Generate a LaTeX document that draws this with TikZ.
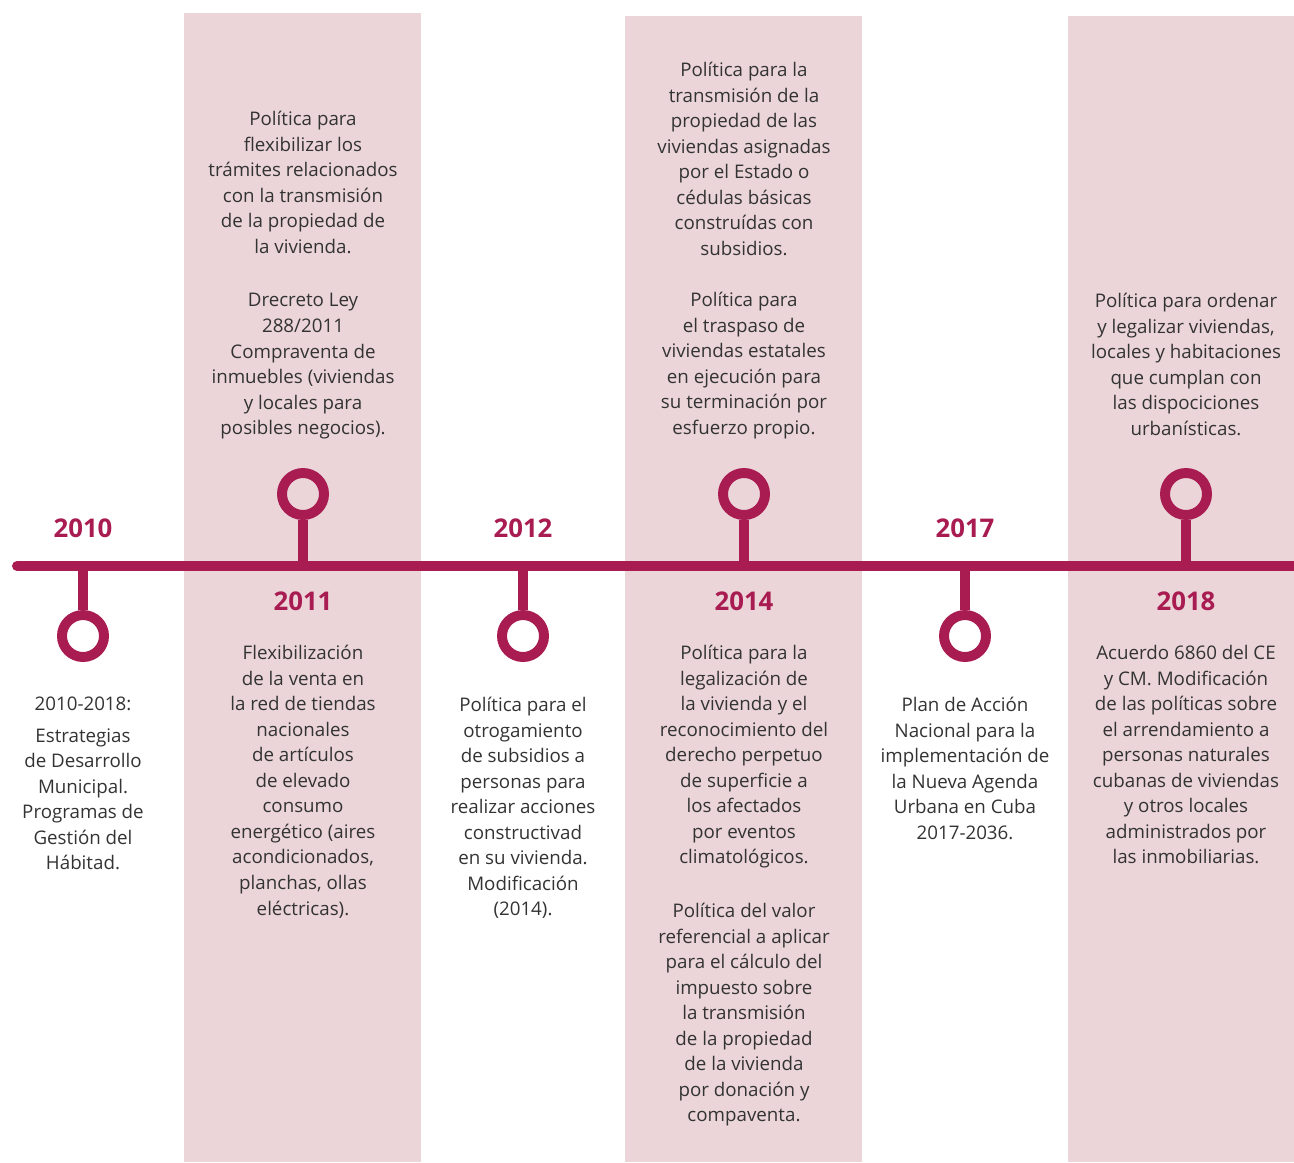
\documentclass[tikz,border=0pt]{standalone}
\usepackage{fontspec}
\setmainfont{Open Sans}
\usetikzlibrary{positioning}
\definecolor{tlred}{HTML}{A81C52}
\definecolor{tlband}{HTML}{EBD5D8}
\definecolor{tltext}{HTML}{333333}
\tikzset{
  band/.style = {fill=tlband, draw=none},
  axis/.style = {draw=tlred, line width=8.5pt},
  pin/.style = {circle, draw=tlred, line width=8.5pt, minimum size=1.26cm, inner sep=0pt},
  stem/.style = {draw=tlred, line width=8.5pt},
  year/.style = {text=tlred, font=\fontsize{22}{26}\selectfont\bfseries, inner sep=0pt},
  txt/.style = {align=center, text=tltext, anchor=north, inner sep=0pt,
    font=\fontsize{16}{21.8}\selectfont},
}

\begin{document}
\begin{tikzpicture}[x=0.03cm, y=-0.03cm]
\useasboundingbox (0,0) rectangle (1294,1162);

% background bands
\fill [band] (184,13) rectangle (421,1162);
\fill [band] (625,16) rectangle (862,1162);
\fill [band] (1068,16) rectangle (1294,1162);

% timeline
\coordinate (start) at (17,566);
\coordinate (end) at (1294,566);
\draw [axis, line cap=round] (start) -- (end);

% pins above the line
\node [pin] (p2011) at (303,494) {};
\node [pin] (p2014) at (744,494) {};
\node [pin] (p2018) at (1186,494) {};
\draw [stem] (p2011.south) -- (p2011.south |- start);
\draw [stem] (p2014.south) -- (p2014.south |- start);
\draw [stem] (p2018.south) -- (p2018.south |- start);

% pins below the line
\node [pin] (p2010) at (83,636) {};
\node [pin] (p2012) at (523,636) {};
\node [pin] (p2017) at (965,636) {};
\draw [stem] (p2010.north) -- (p2010.north |- start);
\draw [stem] (p2012.north) -- (p2012.north |- start);
\draw [stem] (p2017.north) -- (p2017.north |- start);

% years
\node [year] (y2010) at (83,528) {2010};
\node [year] (y2012) at (523,528) {2012};
\node [year] (y2017) at (965,528) {2017};
\node [year] (y2011) at (303,601) {2011};
\node [year] (y2014) at (744,601) {2014};
\node [year] (y2018) at (1186,601) {2018};

% texts above
\node [txt] (t2011a) at (303,111) {Política para\\flexibilizar los\\trámites relacionados\\con la transmisión\\de la propiedad de\\la vivienda.\\[24pt]Drecreto Ley\\288/2011\\Compraventa de\\inmuebles (viviendas\\y locales para\\posibles negocios).};
\node [txt] (t2014a) at (744,62) {Política para la\\transmisión de la\\propiedad de las\\viviendas asignadas\\por el Estado o\\cédulas básicas\\construídas con\\subsidios.\\[22pt]Política para\\el traspaso de\\viviendas estatales\\en ejecución para\\su terminación por\\esfuerzo propio.};
\node [txt] (t2018a) at (1186,293) {Política para ordenar\\y legalizar viviendas,\\locales y habitaciones\\que cumplan con\\las dispociciones\\urbanísticas.};

% texts below
\node [txt] (t2010b) at (83,697) {2010-2018:\\[5pt]Estrategias\\de Desarrollo\\Municipal.\\Programas de\\Gestión del\\Hábitad.};
\node [txt] (t2011b) at (303,645) {Flexibilización\\de la venta en\\la red de tiendas\\nacionales\\de artículos\\de elevado\\consumo\\energético (aires\\acondicionados,\\planchas, ollas\\eléctricas).};
\node [txt] (t2012b) at (523,697) {Política para el\\otrogamiento\\de subsidios a\\personas para\\realizar acciones\\constructivad\\en su vivienda.\\Modificación\\(2014).};
\node [txt] (t2014b) at (744,645) {Política para la\\legalización de\\la vivienda y el\\reconocimiento del\\derecho perpetuo\\de superficie a\\los afectados\\por eventos\\climatológicos.\\[24pt]Política del valor\\referencial a aplicar\\para el cálculo del\\impuesto sobre\\la transmisión\\de la propiedad\\de la vivienda\\por donación y\\compaventa.};
\node [txt] (t2017b) at (965,697) {Plan de Acción\\Nacional para la\\implementación de\\la Nueva Agenda\\Urbana en Cuba\\2017-2036.};
\node [txt] (t2018b) at (1186,645) {Acuerdo 6860 del CE\\y CM. Modificación\\de las políticas sobre\\el arrendamiento a\\personas naturales\\cubanas de viviendas\\y otros locales\\administrados por\\las inmobiliarias.};
\end{tikzpicture}
\end{document}
